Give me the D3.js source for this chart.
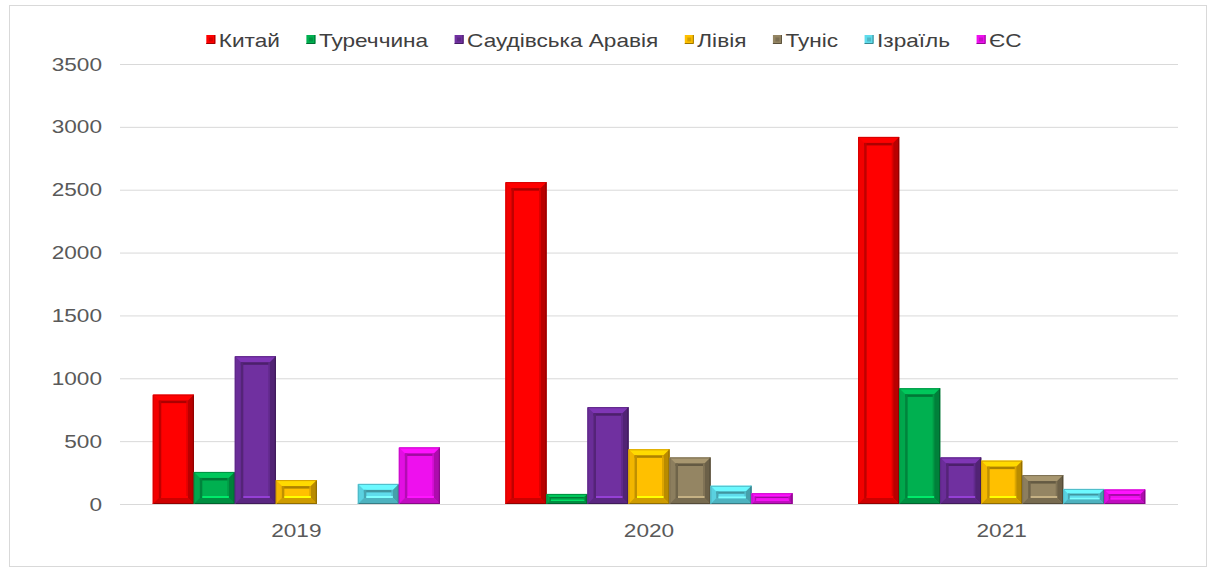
<!DOCTYPE html>
<html>
<head>
<meta charset="utf-8">
<script src="https://cdn.jsdelivr.net/npm/d3@7"></script>
<style>
  html, body { margin: 0; padding: 0; background: #fff; }
  svg { display: block; }
  text { font-family: "Liberation Sans", Arial, sans-serif; }
</style>
</head>
<body>
<svg id="chart" width="1211" height="572"></svg>
<script>
// Years on the category axis
const years = ["2019", "2020", "2021"];

// Series (countries) and their colours
const seriesNames = ["Китай", "Туреччина", "Саудівська Аравія", "Лівія", "Туніс", "Ізраїль", "ЄС"];
const seriesColors = ["#ff0000", "#00b050", "#7030a0", "#ffc000", "#948563", "#5fdcec", "#ee10ee"];

// Values per series, one per year (null = no bar)
const china   = [870, 2560, 2920];
const turkey  = [255, 80, 920];
const saudi   = [1175, 770, 370];
const libya   = [190, 435, 345];
const tunisia = [null, 370, 230];
const israel  = [160, 145, 120];
const eu      = [450, 85, 115];

// Y-axis tick labels
const yTicks = [0, 500, 1000, 1500, 2000, 2500, 3000, 3500];

const seriesValues = [china, turkey, saudi, libya, tunisia, israel, eu];

const svg = d3.select("#chart");
const plot = { left: 120, right: 1178, top: 64, bottom: 504 };
const stretch = 1.19; // text is set slightly wide

// Chart frame
svg.append("rect")
  .attr("x", 9.5).attr("y", 5.5)
  .attr("width", 1197).attr("height", 561)
  .attr("fill", "#fff").attr("stroke", "#d9d9d9").attr("stroke-width", 1);

const x0 = d3.scaleBand().domain(years).range([plot.left, plot.right]).padding(0);
const x1 = d3.scaleBand().domain(seriesNames).range([0, x0.bandwidth()])
  .paddingInner(0).paddingOuter(0.8);
const y = d3.scaleLinear().domain([0, 3500]).range([plot.bottom, plot.top]);

function widen(sel) {
  sel.each(function () {
    const t = d3.select(this);
    const x = +t.attr("x") || 0;
    t.attr("x", x / stretch).attr("transform", `scale(${stretch},1)`);
  });
}

// Gridlines
svg.append("g")
  .attr("transform", `translate(${plot.left},0)`)
  .call(d3.axisLeft(y).tickValues(yTicks).tickSize(-(plot.right - plot.left)).tickFormat(""))
  .call(g => g.select(".domain").remove())
  .call(g => g.selectAll("line").attr("stroke", "#d9d9d9").attr("stroke-width", 1));

// Y labels
svg.append("g")
  .attr("transform", `translate(${plot.left},0)`)
  .call(d3.axisLeft(y).tickValues(yTicks).tickSize(0).tickPadding(18).tickFormat(d3.format("d")))
  .call(g => g.select(".domain").remove())
  .call(g => g.selectAll("text").attr("fill", "#595959").style("font-size", "19px").call(widen));

// X labels
svg.append("g")
  .attr("transform", `translate(0,${plot.bottom})`)
  .call(d3.axisBottom(x0).tickSize(0).tickPadding(20))
  .call(g => g.select(".domain").remove())
  .call(g => g.selectAll("text").attr("fill", "#595959").style("font-size", "19px").call(widen));

// Bevelled bar drawing
function bevelBar(g, x, yTop, w, h, color) {
  const c = d3.color(color);
  const bar = g.append("g");
  bar.append("rect").attr("x", x).attr("y", yTop).attr("width", w).attr("height", h).attr("fill", c);
  const b = Math.max(1.5, Math.min(6, h / 3.2));
  const pts = a => a.map(p => p.join(",")).join(" ");
  const x2 = x + w, y2 = yTop + h;
  // outer frame faces
  bar.append("polygon").attr("points", pts([[x, yTop], [x2, yTop], [x2 - b, yTop + b], [x + b, yTop + b]]))
    .attr("fill", c.brighter(0.35));
  bar.append("polygon").attr("points", pts([[x, yTop], [x + b, yTop + b], [x + b, y2 - b], [x, y2]]))
    .attr("fill", c.darker(0.15));
  bar.append("polygon").attr("points", pts([[x2, yTop], [x2, y2], [x2 - b, y2 - b], [x2 - b, yTop + b]]))
    .attr("fill", c.darker(0.9));
  bar.append("polygon").attr("points", pts([[x, y2], [x + b, y2 - b], [x2 - b, y2 - b], [x2, y2]]))
    .attr("fill", c.darker(0.6));
  // recessed inner panel edges
  const ix = x + b, iy = yTop + b, iw = w - 2 * b, ih = h - 2 * b;
  if (ih > 1) {
    const e = Math.min(2.5, ih / 3);
    bar.append("rect").attr("x", ix).attr("y", iy).attr("width", iw).attr("height", e).attr("fill", c.darker(1.1));
    bar.append("rect").attr("x", ix).attr("y", iy).attr("width", e).attr("height", ih).attr("fill", c.darker(0.8));
    bar.append("rect").attr("x", ix + iw - e * 0.6).attr("y", iy).attr("width", e * 0.6).attr("height", ih).attr("fill", c.darker(0.4));
    bar.append("rect").attr("x", ix + e).attr("y", iy + ih - e * 0.8).attr("width", iw - e).attr("height", e * 0.8).attr("fill", c.brighter(0.8));
  }
  // dark outline on right and bottom edges
  bar.append("path").attr("d", `M${x2 - 0.5},${yTop} V${y2 - 0.5} H${x}`)
    .attr("fill", "none").attr("stroke", c.darker(1.6)).attr("stroke-width", 1.2);
  bar.append("path").attr("d", `M${x + 0.5},${y2} V${yTop + 0.5} H${x2}`)
    .attr("fill", "none").attr("stroke", c.darker(0.5)).attr("stroke-width", 1);
}

const bars = svg.append("g");
years.forEach((yr, i) => {
  seriesNames.forEach((s, k) => {
    const v = seriesValues[k][i];
    if (v == null || v <= 0) return;
    const bx = x0(yr) + x1(s);
    bevelBar(bars, bx, y(v), x1.bandwidth(), y(0) - y(v), seriesColors[k]);
  });
});

// Legend, centred above the plot
const legend = svg.append("g");
const items = seriesNames.map((s, k) => {
  const g = legend.append("g");
  const c = d3.color(seriesColors[k]);
  g.append("rect").attr("x", 0).attr("y", -12).attr("width", 9).attr("height", 9).attr("fill", c);
  g.append("rect").attr("x", 2.5).attr("y", -9.5).attr("width", 4).attr("height", 4).attr("fill", c.darker(0.5));
  g.append("path").attr("d", "M8.5,-12 V-3.5 H0").attr("fill", "none").attr("stroke", c.darker(1.4)).attr("stroke-width", 1);
  const t = g.append("text").attr("x", 12.5 / stretch).attr("y", 0).attr("fill", "#404040")
    .attr("transform", `scale(${stretch},1)`)
    .style("font-size", "19px").text(s);
  return { g, w: 12.5 + t.node().getComputedTextLength() * stretch };
});
const gap = 26.5;
const total = d3.sum(items, d => d.w) + gap * (items.length - 1);
let lx = 614 - total / 2;
items.forEach(it => {
  it.g.attr("transform", `translate(${lx},47)`);
  lx += it.w + gap;
});
</script>
</body>
</html>
